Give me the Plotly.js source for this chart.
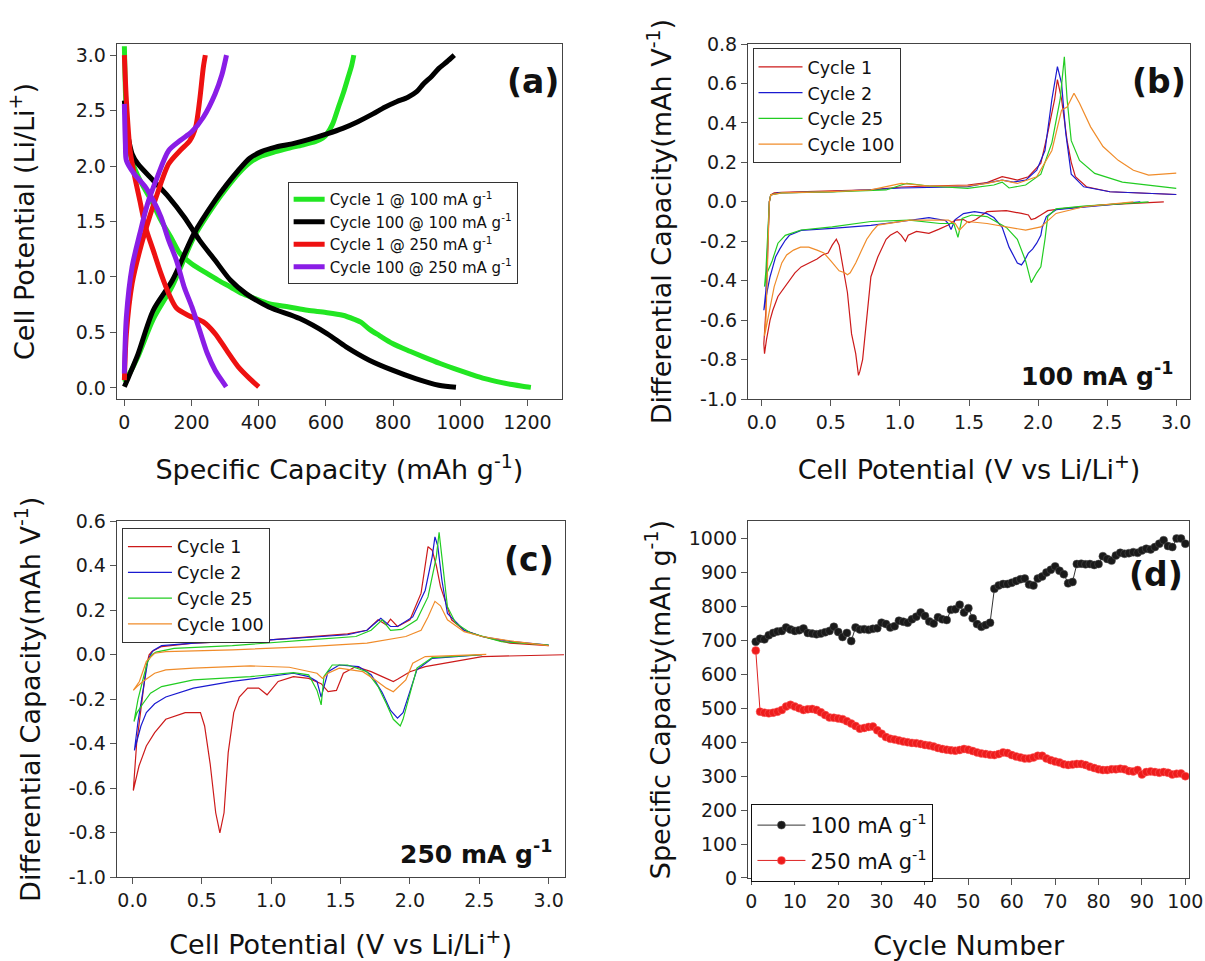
<!DOCTYPE html>
<html><head><meta charset="utf-8">
<script src="https://cdn.plot.ly/plotly-3.0.1.min.js"></script>
<style>html,body{margin:0;padding:0;background:#fff;} #chart{width:1205px;height:961px;}</style>
</head><body><div id="chart"></div>
<script>
// ---------- Panel (a): charge/discharge profiles [capacity mAh/g, potential V] ----------
const a_cyc1_100_dis = [[0,3.08],[2,2.8],[5,2.5],[10,2.25],[18,2.1],[29,1.99],[50,1.85],[80,1.69],[109,1.51],[140,1.35],[166,1.21],[200,1.12],[247,1.03],[280,0.97],[316,0.91],[350,0.85],[385,0.81],[430,0.76],[490,0.73],[545,0.70],[600,0.68],[650,0.655],[683,0.62],[705,0.59],[729,0.53],[760,0.47],[798,0.40],[850,0.33],[890,0.28],[940,0.22],[982,0.174],[1030,0.125],[1073,0.084],[1120,0.05],[1154,0.03],[1185,0.015],[1210,0.005]];
const a_cyc1_100_chg = [[0,0.05],[10,0.1],[40,0.28],[86,0.62],[143,0.92],[207,1.36],[270,1.66],[304,1.80],[339,1.93],[373,2.03],[408,2.09],[450,2.13],[488,2.16],[530,2.19],[568,2.22],[590,2.25],[603,2.29],[620,2.38],[637,2.53],[652,2.66],[666,2.80],[676,2.90],[683,3.0]];
const a_cyc100_100_dis = [[0,2.59],[5,2.4],[12,2.25],[23,2.11],[40,2.02],[86,1.87],[132,1.72],[178,1.54],[224,1.33],[270,1.15],[316,0.97],[362,0.85],[430,0.73],[522,0.625],[603,0.49],[660,0.37],[729,0.25],[798,0.16],[867,0.084],[936,0.024],[987,0.005]];
const a_cyc100_100_chg = [[0,0.01],[10,0.08],[40,0.3],[86,0.70],[143,0.97],[207,1.39],[270,1.69],[304,1.83],[339,1.96],[373,2.07],[408,2.13],[450,2.17],[499,2.20],[550,2.24],[603,2.29],[650,2.34],[695,2.40],[740,2.47],[775,2.53],[810,2.58],[844,2.62],[870,2.67],[890,2.74],[915,2.81],[936,2.88],[960,2.94],[982,3.0]];
const a_cyc1_250_dis = [[0,3.0],[6,2.59],[17,2.14],[29,1.93],[46,1.69],[63,1.45],[86,1.24],[109,1.03],[132,0.85],[155,0.72],[189,0.655],[235,0.595],[270,0.49],[304,0.34],[339,0.19],[373,0.084],[400,0.01]];
const a_cyc1_250_chg = [[0,0.07],[6,0.49],[23,0.94],[46,1.24],[75,1.54],[98,1.75],[132,2.02],[166,2.14],[195,2.23],[212,2.35],[224,2.59],[235,2.89],[241,3.0]];
const a_cyc100_250_dis = [[0,2.56],[3,2.2],[6,2.05],[29,1.93],[63,1.81],[86,1.69],[109,1.54],[132,1.33],[155,1.15],[178,0.91],[201,0.73],[224,0.52],[247,0.31],[270,0.16],[293,0.054],[303,0.01]];
const a_cyc100_250_chg = [[0,0.13],[6,0.64],[23,1.09],[46,1.39],[69,1.66],[98,1.90],[132,2.14],[166,2.23],[201,2.31],[235,2.44],[270,2.65],[290,2.82],[304,3.0]];
const a_names = ['Cycle 1 @ 100 mA g<sup>-1</sup>','Cycle 100 @ 100 mA g<sup>-1</sup>','Cycle 1 @ 250 mA g<sup>-1</sup>','Cycle 100 @ 250 mA g<sup>-1</sup>'];
const a_xticks = [0,200,400,600,800,1000,1200];
const a_yticks = [0,0.5,1.0,1.5,2.0,2.5,3.0];

// ---------- Panel (b): dQ/dV at 100 mA/g [V, dQ/dV] ----------
const b_cycle1 = [[2.91,0],[2.47,-0.016],[2.19,-0.033],[2.07,-0.045],[2.02,-0.067],[1.98,-0.084],[1.95,-0.09],[1.93,-0.067],[1.88,-0.059],[1.77,-0.045],[1.63,-0.05],[1.55,-0.09],[1.50,-0.106],[1.46,-0.09],[1.40,-0.093],[1.35,-0.118],[1.28,-0.14],[1.21,-0.16],[1.12,-0.15],[1.06,-0.17],[1.04,-0.20],[1.01,-0.17],[0.98,-0.15],[0.93,-0.17],[0.90,-0.19],[0.84,-0.28],[0.79,-0.38],[0.76,-0.58],[0.73,-0.80],[0.71,-0.86],[0.70,-0.88],[0.68,-0.77],[0.65,-0.67],[0.62,-0.46],[0.59,-0.33],[0.56,-0.22],[0.54,-0.19],[0.51,-0.22],[0.48,-0.26],[0.44,-0.27],[0.40,-0.29],[0.34,-0.31],[0.285,-0.33],[0.24,-0.36],[0.20,-0.40],[0.15,-0.45],[0.117,-0.48],[0.08,-0.55],[0.06,-0.60],[0.034,-0.70],[0.02,-0.77],[0.015,-0.72],[0.03,-0.55],[0.045,-0.2],[0.055,0.0],[0.065,0.035],[0.09,0.045],[0.145,0.048],[0.285,0.052],[0.51,0.056],[0.79,0.06],[1.01,0.075],[1.21,0.08],[1.49,0.085],[1.63,0.097],[1.74,0.127],[1.79,0.12],[1.85,0.11],[1.93,0.127],[2.02,0.195],[2.07,0.35],[2.12,0.52],[2.14,0.62],[2.17,0.52],[2.21,0.31],[2.24,0.2],[2.27,0.127],[2.35,0.076],[2.52,0.051],[2.74,0.043],[3.0,0.037]];
const b_cycle2 = [[2.74,0],[2.33,-0.025],[2.13,-0.04],[2.06,-0.075],[2.03,-0.13],[2.02,-0.17],[1.99,-0.21],[1.96,-0.24],[1.93,-0.26],[1.90,-0.30],[1.88,-0.32],[1.85,-0.31],[1.82,-0.27],[1.79,-0.23],[1.74,-0.13],[1.68,-0.08],[1.63,-0.06],[1.54,-0.05],[1.46,-0.06],[1.40,-0.09],[1.37,-0.14],[1.35,-0.11],[1.33,-0.095],[1.21,-0.08],[1.01,-0.10],[0.79,-0.12],[0.51,-0.135],[0.285,-0.145],[0.20,-0.17],[0.17,-0.195],[0.13,-0.24],[0.10,-0.28],[0.08,-0.33],[0.06,-0.38],[0.04,-0.45],[0.028,-0.50],[0.015,-0.55],[0.03,-0.45],[0.045,-0.2],[0.055,0.0],[0.065,0.035],[0.117,0.045],[0.51,0.052],[1.01,0.07],[1.49,0.077],[1.74,0.11],[1.82,0.10],[1.91,0.11],[1.99,0.16],[2.05,0.26],[2.10,0.52],[2.14,0.685],[2.17,0.60],[2.20,0.35],[2.24,0.14],[2.33,0.076],[2.52,0.051],[3.0,0.037]];
const b_cycle25 = [[2.80,0],[2.33,-0.022],[2.13,-0.036],[2.07,-0.075],[2.05,-0.19],[2.02,-0.33],[1.99,-0.36],[1.95,-0.41],[1.91,-0.30],[1.85,-0.19],[1.77,-0.13],[1.63,-0.075],[1.52,-0.067],[1.45,-0.084],[1.42,-0.18],[1.39,-0.11],[1.29,-0.11],[1.07,-0.093],[0.79,-0.10],[0.51,-0.127],[0.285,-0.143],[0.17,-0.17],[0.117,-0.21],[0.075,-0.30],[0.039,-0.36],[0.02,-0.43],[0.03,-0.35],[0.045,-0.15],[0.055,0.0],[0.065,0.035],[0.145,0.045],[0.51,0.05],[0.9,0.06],[1.01,0.085],[1.05,0.093],[1.21,0.08],[1.49,0.068],[1.68,0.085],[1.74,0.10],[1.79,0.07],[1.91,0.085],[2.02,0.14],[2.10,0.30],[2.16,0.52],[2.19,0.735],[2.21,0.52],[2.24,0.31],[2.30,0.21],[2.41,0.144],[2.61,0.10],[3.0,0.068]];
const b_cycle100 = [[2.69,0],[2.33,-0.025],[2.13,-0.059],[2.02,-0.127],[1.91,-0.144],[1.77,-0.127],[1.63,-0.11],[1.49,-0.10],[1.43,-0.144],[1.40,-0.11],[1.35,-0.093],[1.07,-0.093],[0.84,-0.118],[0.80,-0.15],[0.76,-0.19],[0.72,-0.25],[0.68,-0.31],[0.64,-0.36],[0.62,-0.37],[0.60,-0.36],[0.56,-0.35],[0.50,-0.30],[0.45,-0.26],[0.40,-0.245],[0.34,-0.23],[0.28,-0.23],[0.23,-0.245],[0.18,-0.27],[0.145,-0.31],[0.09,-0.43],[0.048,-0.58],[0.02,-0.68],[0.03,-0.6],[0.045,-0.25],[0.055,0.0],[0.065,0.035],[0.145,0.045],[0.51,0.052],[0.79,0.06],[1.01,0.093],[1.07,0.09],[1.21,0.08],[1.49,0.08],[1.63,0.093],[1.74,0.11],[1.85,0.093],[1.99,0.127],[2.10,0.26],[2.17,0.465],[2.21,0.48],[2.26,0.55],[2.30,0.50],[2.38,0.38],[2.47,0.28],[2.58,0.21],[2.69,0.16],[2.80,0.135],[2.91,0.14],[3.0,0.145]];

// ---------- Panel (c): dQ/dV at 250 mA/g [V, dQ/dV] ----------
const c_cycle1 = [[3.11,0],[2.52,-0.008],[2.11,-0.053],[2.0,-0.076],[1.91,-0.11],[1.88,-0.12],[1.80,-0.098],[1.72,-0.076],[1.61,-0.053],[1.52,-0.083],[1.47,-0.16],[1.41,-0.166],[1.36,-0.13],[1.27,-0.106],[1.16,-0.098],[1.05,-0.12],[0.97,-0.18],[0.91,-0.15],[0.83,-0.15],[0.77,-0.19],[0.73,-0.26],[0.69,-0.44],[0.66,-0.71],[0.63,-0.80],[0.60,-0.71],[0.56,-0.49],[0.52,-0.32],[0.49,-0.26],[0.38,-0.26],[0.24,-0.29],[0.16,-0.35],[0.10,-0.41],[0.047,-0.50],[0.014,-0.59],[0.006,-0.61],[0.03,-0.4],[0.07,-0.2],[0.10,-0.05],[0.12,0.0],[0.14,0.015],[0.21,0.037],[0.44,0.052],[0.99,0.067],[1.27,0.082],[1.55,0.094],[1.69,0.11],[1.77,0.157],[1.83,0.134],[1.86,0.16],[1.91,0.127],[2.0,0.157],[2.08,0.277],[2.13,0.486],[2.16,0.47],[2.19,0.40],[2.22,0.306],[2.25,0.246],[2.30,0.157],[2.39,0.11],[2.52,0.082],[2.72,0.052],[3.0,0.041]];
const c_cycle2 = [[2.52,0],[2.16,-0.016],[2.05,-0.068],[2.0,-0.16],[1.95,-0.26],[1.91,-0.285],[1.86,-0.25],[1.80,-0.17],[1.72,-0.09],[1.63,-0.053],[1.49,-0.046],[1.41,-0.076],[1.36,-0.19],[1.33,-0.12],[1.27,-0.098],[1.16,-0.083],[0.99,-0.098],[0.72,-0.12],[0.44,-0.15],[0.24,-0.19],[0.16,-0.22],[0.10,-0.26],[0.061,-0.32],[0.033,-0.38],[0.014,-0.43],[0.04,-0.3],[0.08,-0.15],[0.11,-0.03],[0.13,0.0],[0.15,0.019],[0.21,0.041],[0.44,0.052],[0.99,0.067],[1.55,0.09],[1.69,0.11],[1.79,0.164],[1.86,0.127],[1.91,0.127],[2.02,0.17],[2.11,0.29],[2.16,0.44],[2.18,0.53],[2.20,0.49],[2.23,0.336],[2.27,0.186],[2.39,0.11],[2.52,0.082],[2.72,0.06],[3.0,0.044]];
const c_cycle25 = [[2.52,0],[2.16,-0.013],[2.05,-0.06],[2.0,-0.17],[1.95,-0.29],[1.93,-0.32],[1.88,-0.29],[1.83,-0.22],[1.77,-0.143],[1.69,-0.076],[1.55,-0.046],[1.44,-0.046],[1.38,-0.098],[1.36,-0.225],[1.33,-0.16],[1.27,-0.09],[1.16,-0.08],[0.85,-0.098],[0.44,-0.113],[0.21,-0.143],[0.13,-0.173],[0.075,-0.22],[0.033,-0.26],[0.011,-0.30],[0.04,-0.2],[0.08,-0.1],[0.11,-0.03],[0.14,0.0],[0.17,0.012],[0.30,0.029],[0.72,0.041],[1.27,0.067],[1.61,0.082],[1.72,0.11],[1.80,0.157],[1.86,0.11],[1.94,0.114],[2.05,0.157],[2.13,0.26],[2.19,0.44],[2.21,0.55],[2.23,0.44],[2.27,0.216],[2.33,0.142],[2.44,0.097],[2.66,0.059],[3.0,0.044]];
const c_cycle100 = [[2.55,0.002],[2.11,-0.008],[2.02,-0.038],[1.97,-0.113],[1.88,-0.166],[1.83,-0.15],[1.75,-0.113],[1.66,-0.076],[1.49,-0.06],[1.41,-0.083],[1.37,-0.106],[1.33,-0.083],[1.13,-0.056],[0.85,-0.05],[0.44,-0.06],[0.24,-0.068],[0.16,-0.083],[0.075,-0.12],[0.033,-0.143],[0.006,-0.16],[0.05,-0.12],[0.10,-0.03],[0.16,0.007],[0.24,0.014],[0.72,0.022],[1.27,0.037],[1.69,0.052],[1.83,0.067],[1.97,0.082],[2.08,0.11],[2.13,0.17],[2.18,0.24],[2.22,0.22],[2.27,0.157],[2.39,0.104],[2.52,0.082],[2.75,0.06],[3.0,0.041]];
const dq_names = ['Cycle 1','Cycle 2','Cycle 25','Cycle 100'];
const v_xticks = [0,0.5,1.0,1.5,2.0,2.5,3.0];
const b_ytickvals = [-1.0,-0.8,-0.6,-0.4,-0.2,0,0.2,0.4,0.6,0.8];
const b_yticktext = ['-1.0','-0.8','-0.6','-0.4','-0.2','0.0','0.2','0.4','0.6','0.8'];
const c_ytickvals = [-1.0,-0.8,-0.6,-0.4,-0.2,0,0.2,0.4,0.6];
const c_yticktext = ['-1.0','-0.8','-0.6','-0.4','-0.2','0.0','0.2','0.4','0.6'];

// ---------- Panel (d): cycling performance ----------
const d_cycles = [1,2,3,4,5,6,7,8,9,10,11,12,13,14,15,16,17,18,19,20,21,22,23,24,25,26,27,28,29,30,31,32,33,34,35,36,37,38,39,40,41,42,43,44,45,46,47,48,49,50,51,52,53,54,55,56,57,58,59,60,61,62,63,64,65,66,67,68,69,70,71,72,73,74,75,76,77,78,79,80,81,82,83,84,85,86,87,88,89,90,91,92,93,94,95,96,97,98,99,100];
const d_cap_100 = [696,705,703,715,722,726,728,738,732,728,730,735,722,720,718,720,724,728,740,725,710,722,698,738,732,733,731,734,736,752,748,738,742,758,755,752,762,770,782,772,756,750,768,762,760,790,792,805,782,795,765,748,740,745,752,852,862,866,866,870,875,880,882,865,862,882,888,900,908,918,905,895,868,872,925,926,924,925,922,925,948,940,935,950,958,955,957,960,958,965,970,968,975,985,995,978,975,1000,1000,985];
const d_cap_250 = [670,490,487,485,487,490,495,505,510,505,500,495,497,498,495,488,480,473,472,470,468,462,455,448,440,442,445,446,435,425,415,410,408,405,402,400,398,397,395,392,390,387,383,380,378,376,375,377,380,378,374,370,367,365,363,362,365,370,368,362,358,355,352,352,355,360,360,352,347,343,340,335,333,334,336,336,333,328,324,320,318,318,320,320,322,320,315,314,318,305,312,314,312,310,312,310,305,307,308,300];
const d_names = ['100 mA g<sup>-1</sup>','250 mA g<sup>-1</sup>'];
const d_xticks = [0,10,20,30,40,50,60,70,80,90,100];
const d_yticks = [0,100,200,300,400,500,600,700,800,900,1000];

// ---------- build ----------
const FONT = 'DejaVu Sans, Liberation Sans, Arial, sans-serif';
const xs = p => p.map(q => q[0]);
const ys = p => p.map(q => q[1]);
const join = (a, b) => a.concat([[null, null]], b);

const aCol = ['#22e622', '#000000', '#ee1111', '#8a1de6'];
const aSets = [[a_cyc1_100_dis, a_cyc1_100_chg],[a_cyc100_100_dis, a_cyc100_100_chg],[a_cyc1_250_dis, a_cyc1_250_chg],[a_cyc100_250_dis, a_cyc100_250_chg]];
const traces = [];
aSets.forEach((s, i) => {
  const p = join(s[0], s[1]);
  traces.push({type:'scatter', mode:'lines', x: xs(p), y: ys(p), name: a_names[i], xaxis:'x', yaxis:'y', legend:'legend',
    line:{color:aCol[i], width:5, shape:'spline', smoothing:0.8}, connectgaps:false});
});
const dqCol = ['#cc1a1a', '#1a1ad0', '#22cc22', '#f08c2a'];
[b_cycle1, b_cycle2, b_cycle25, b_cycle100].forEach((p, i) => {
  traces.push({type:'scatter', mode:'lines', x: xs(p), y: ys(p), name: dq_names[i], xaxis:'x2', yaxis:'y2', legend:'legend2',
    line:{color:dqCol[i], width:1.2}});
});
[c_cycle1, c_cycle2, c_cycle25, c_cycle100].forEach((p, i) => {
  traces.push({type:'scatter', mode:'lines', x: xs(p), y: ys(p), name: dq_names[i], xaxis:'x3', yaxis:'y3', legend:'legend3',
    line:{color:dqCol[i], width:1.2}});
});
traces.push({type:'scatter', mode:'lines+markers', x:d_cycles, y:d_cap_100, name:d_names[0], xaxis:'x4', yaxis:'y4', legend:'legend4', legendgroup:'d0',
  line:{color:'#333', width:1}, marker:{color:'#1a1a1a', size:8, line:{color:'#555', width:0.5}}});
traces.push({type:'scatter', mode:'lines+markers', x:d_cycles, y:d_cap_250, name:d_names[1], xaxis:'x4', yaxis:'y4', legend:'legend4', legendgroup:'d1',
  line:{color:'#dd2222', width:1}, marker:{color:'#ee1c1c', size:8, line:{color:'#ff6666', width:0.5}}});

function ax(o) {
  return Object.assign({
    showline:true, mirror:true, linecolor:'#444', linewidth:1,
    ticks:'outside', ticklen:6, tickwidth:1, tickcolor:'#555',
    showgrid:false, zeroline:false, fixedrange:true,
    tickfont:{family:FONT, size:19, color:'#1a1a1a'}
  }, o);
}
const titleFont = {family:FONT, size:27, color:'#111'};

const layout = {
  width:1205, height:961, margin:{l:0, r:0, t:0, b:0},
  paper_bgcolor:'#fff', plot_bgcolor:'#fff',
  font:{family:FONT, color:'#111'},
  xaxis: ax({domain:[0.0968,0.4665], range:[-23,1303], anchor:'y', tickvals:a_xticks,
    title:{text:'Specific Capacity (mAh g<sup>-1</sup>)', font:titleFont, standoff:28}}),
  yaxis: ax({domain:[0.5848,0.9542], range:[-0.1,3.1], anchor:'x', tickvals:a_yticks, tickformat:'.1f',
    title:{text:'Cell Potential (Li/Li<sup>+</sup>)', font:titleFont, standoff:33}}),
  xaxis2: ax({domain:[0.6207,0.9876], range:[-0.1,3.1], anchor:'y2', tickvals:v_xticks, tickformat:'.1f',
    title:{text:'Cell Potential (V vs Li/Li<sup>+</sup>)', font:titleFont, standoff:28}}),
  yaxis2: ax({domain:[0.5848,0.9542], range:[-1.0,0.8], anchor:'x2', tickvals:b_ytickvals, ticktext:b_yticktext,
    title:{text:'Differential Capacity(mAh V<sup>-1</sup>)', font:titleFont, standoff:20}}),
  xaxis3: ax({domain:[0.0968,0.4685], range:[-0.114,3.114], anchor:'y3', tickvals:v_xticks, tickformat:'.1f',
    title:{text:'Cell Potential (V vs Li/Li<sup>+</sup>)', font:titleFont, standoff:25}}),
  yaxis3: ax({domain:[0.0871,0.4576], range:[-1.0,0.6], anchor:'x3', tickvals:c_ytickvals, ticktext:c_yticktext,
    title:{text:'Differential Capacity(mAh V<sup>-1</sup>)', font:titleFont, standoff:20}}),
  xaxis4: ax({domain:[0.6207,0.9869], range:[-0.8,100.9], anchor:'y4', tickvals:d_xticks,
    title:{text:'Cycle Number', font:titleFont, standoff:27}}),
  yaxis4: ax({domain:[0.0864,0.4576], range:[0,1051], anchor:'x4', tickvals:d_yticks,
    title:{text:'Specific Capacity(mAh g<sup>-1</sup>)', font:titleFont, standoff:10}}),
  legend: {x:0.2387, y:0.8106, xanchor:'left', yanchor:'top', bgcolor:'#fff', bordercolor:'#333', borderwidth:1,
    font:{family:FONT, size:15, color:'#111'}, itemwidth:31},
  legend2: {x:0.6245, y:0.950, xanchor:'left', yanchor:'top', bgcolor:'#fff', bordercolor:'#333', borderwidth:1,
    font:{family:FONT, size:17.5, color:'#111'}, itemwidth:44},
  legend3: {x:0.1012, y:0.4509, xanchor:'left', yanchor:'top', bgcolor:'#fff', bordercolor:'#333', borderwidth:1,
    font:{family:FONT, size:17.5, color:'#111'}, itemwidth:44},
  legend4: {x:0.6236, y:0.1634, xanchor:'left', yanchor:'top', bgcolor:'#fff', bordercolor:'#111', borderwidth:1,
    font:{family:FONT, size:21, color:'#111'}, itemwidth:48, traceorder:'grouped', tracegroupgap:5},
  annotations: [
    {text:'(a)', xref:'paper', yref:'paper', x:0.4422, y:0.9147, xanchor:'center', yanchor:'middle', showarrow:false, font:{family:FONT, size:33, weight:'bold', color:'#111'}},
    {text:'(b)', xref:'paper', yref:'paper', x:0.9618, y:0.9147, xanchor:'center', yanchor:'middle', showarrow:false, font:{family:FONT, size:33, weight:'bold', color:'#111'}},
    {text:'(c)', xref:'paper', yref:'paper', x:0.4390, y:0.4173, xanchor:'center', yanchor:'middle', showarrow:false, font:{family:FONT, size:33, weight:'bold', color:'#111'}},
    {text:'(d)', xref:'paper', yref:'paper', x:0.9593, y:0.4017, xanchor:'center', yanchor:'middle', showarrow:false, font:{family:FONT, size:33, weight:'bold', color:'#111'}},
    {text:'100 mA g<sup>-1</sup>', xref:'paper', yref:'paper', x:0.9751, y:0.6098, xanchor:'right', yanchor:'middle', showarrow:false, font:{family:FONT, size:25, weight:'bold', color:'#111'}},
    {text:'250 mA g<sup>-1</sup>', xref:'paper', yref:'paper', x:0.4598, y:0.1124, xanchor:'right', yanchor:'middle', showarrow:false, font:{family:FONT, size:25, weight:'bold', color:'#111'}}
  ]
};
Plotly.newPlot('chart', traces, layout, {displayModeBar:false, staticPlot:true});
</script></body></html>
